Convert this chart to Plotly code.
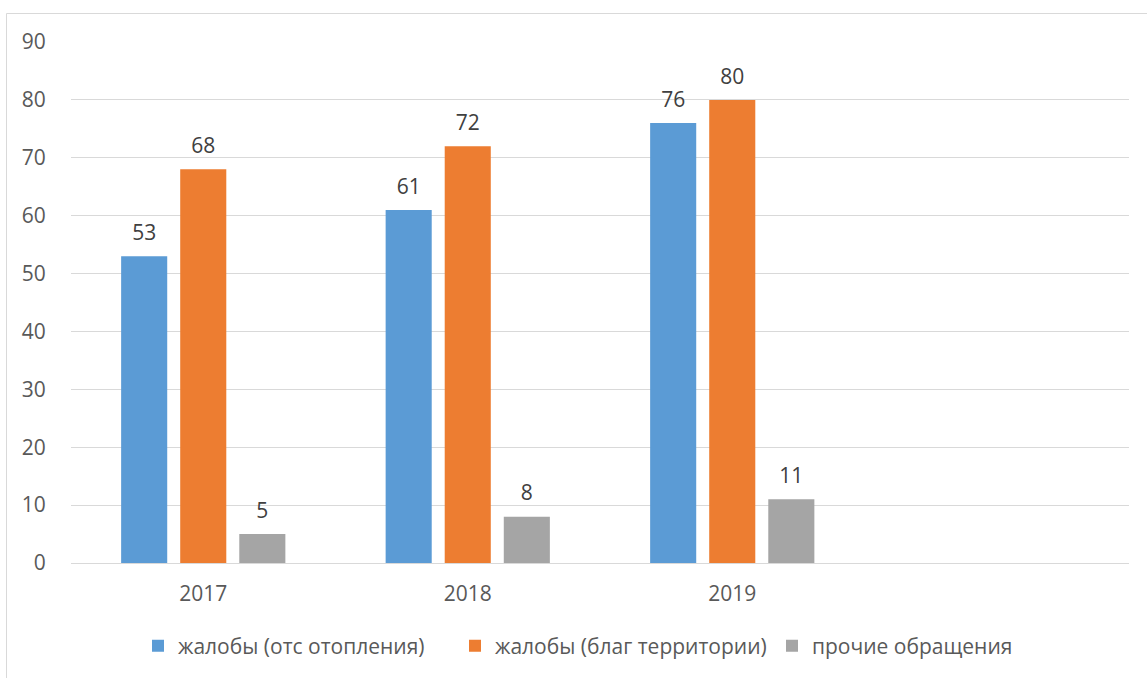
import plotly.graph_objects as go

years = ["2017", "2018", "2019"]
heating = [53, 61, 76]
territory = [68, 72, 80]
other = [5, 8, 11]
names = ["жалобы (отс отопления)", "жалобы (благ территории)", "прочие обращения"]
colors = ["#5B9BD5", "#ED7D31", "#A5A5A5"]

FONT = "Open Sans"
FS = 21
fig = go.Figure()
for i, (name, vals, col) in enumerate(zip(names, [heating, territory, other], colors)):
    fig.add_trace(go.Bar(
        x=years, y=vals, name=name, marker=dict(color=col, line=dict(width=0)),
        offsetgroup=str(i),
    ))
for i, vals in enumerate([heating, territory, other]):
    fig.add_trace(go.Scatter(
        x=years, y=vals, mode="markers+text", text=[str(v) for v in vals],
        textposition="top center", offsetgroup=str(i), showlegend=False, hoverinfo="skip",
        marker=dict(size=16, color="rgba(0,0,0,0)"),
        textfont=dict(family=FONT, size=FS, color="#404040"), cliponaxis=False,
    ))

W, H = 1147, 678
L, R, T, B = 71, 18, 42, 115
pw, ph = W - L - R, H - T - B

def px_x(p):
    return (p - L) / pw

def px_y(p):
    return (H - B - p) / ph

fig.update_layout(
    width=W, height=H,
    margin=dict(l=L, r=R, t=T, b=B, autoexpand=False),
    paper_bgcolor="white", plot_bgcolor="white",
    barmode="group", bargap=0.33, bargroupgap=0.22,
    scattermode="group", scattergap=0.33,
    font=dict(family=FONT, size=FS, color="#595959"),
    showlegend=True,
    legend=dict(orientation="h", x=px_x(138), xanchor="left", y=px_y(646), yanchor="middle",
                font=dict(family=FONT, size=FS, color="#595959"), itemwidth=30,
                entrywidth=272, traceorder="normal"),
    xaxis=dict(type="category", range=[-0.5, 3.5], showgrid=False, showline=False,
               ticks="outside", ticklen=12, tickcolor="rgba(0,0,0,0)",
               tickfont=dict(family=FONT, size=FS, color="#595959"), fixedrange=True),
    yaxis=dict(range=[0, 90], dtick=10, showgrid=True, gridcolor="#D9D9D9", gridwidth=1,
               zeroline=True, zerolinecolor="#D9D9D9", zerolinewidth=1, showline=False,
               ticks="outside", ticklen=20, tickcolor="rgba(0,0,0,0)",
               tickfont=dict(family=FONT, size=FS, color="#595959"), fixedrange=True),
    shapes=[dict(type="rect", xref="paper", yref="paper",
                 x0=px_x(6.5), x1=px_x(1160), y0=px_y(700), y1=px_y(13.5),
                 line=dict(color="#D9D9D9", width=1), fillcolor="rgba(0,0,0,0)", layer="below")],
)

fig.write_html("out.html")
